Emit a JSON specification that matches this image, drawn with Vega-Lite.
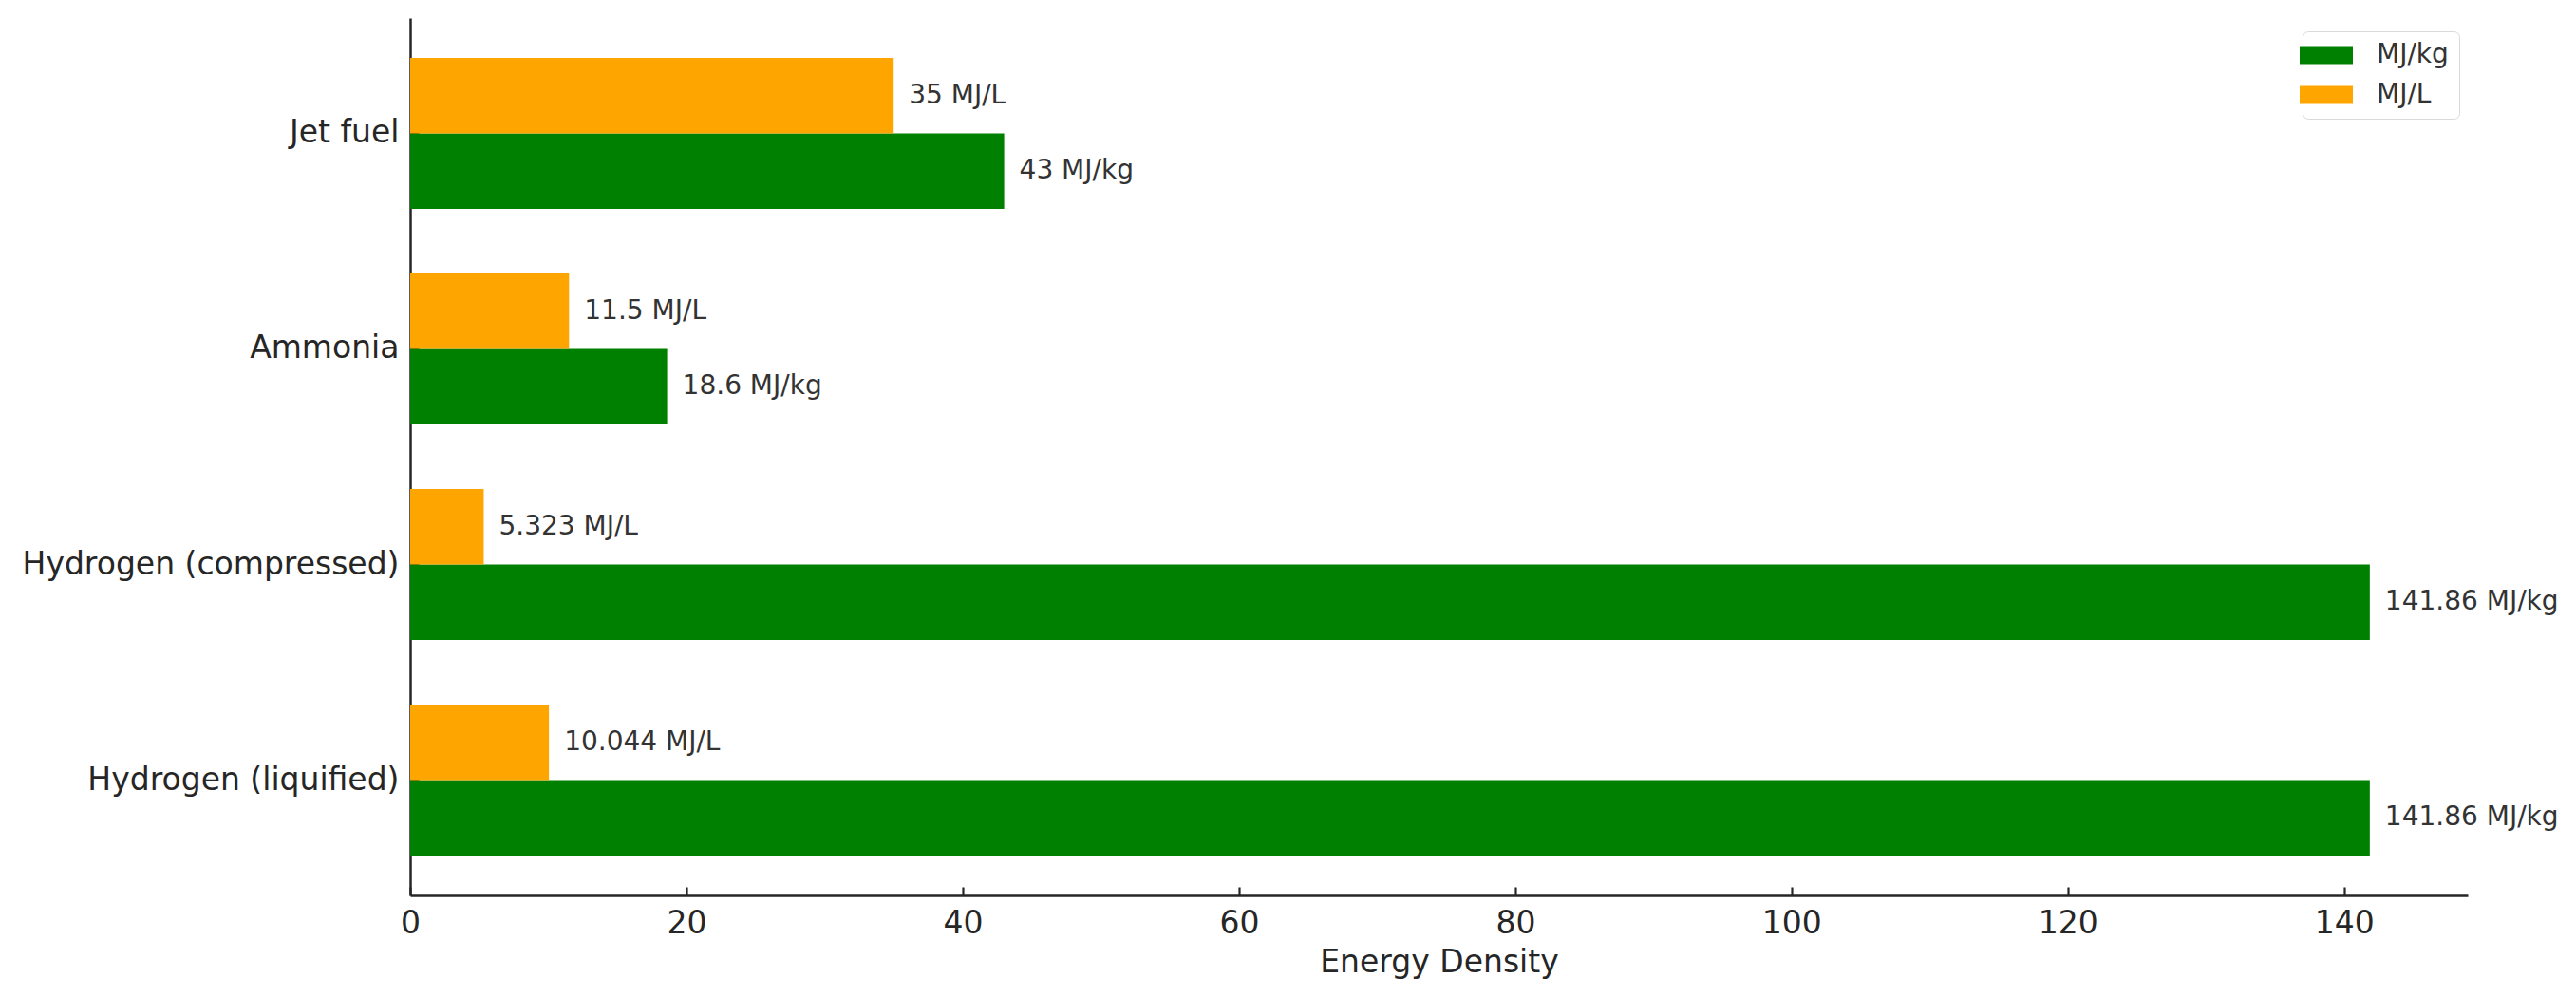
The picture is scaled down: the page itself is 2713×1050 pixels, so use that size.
{
  "$schema": "https://vega.github.io/schema/vega-lite/v6.json",
  "description": "Energy density of fuels, MJ/kg and MJ/L, grouped horizontal bars.",
  "autosize": "none",
  "width": 2167,
  "height": 924,
  "padding": {"left": 432, "top": 19, "right": 114, "bottom": 107},
  "background": "white",
  "config": {
    "font": "DejaVu Sans",
    "view": {"stroke": null},
    "axis": {
      "grid": false,
      "zindex": 1,
      "domainColor": "#262626",
      "domainWidth": 2.5,
      "tickColor": "#262626",
      "tickWidth": 2.2,
      "tickSize": -9,
      "labelColor": "#262626",
      "labelFontSize": 33,
      "labelFont": "DejaVu Sans",
      "titleFont": "DejaVu Sans",
      "titleFontWeight": "normal",
      "titleColor": "#262626",
      "titleFontSize": 33
    },
    "legend": {
      "strokeColor": "#d9d9d9",
      "padding": 11,
      "cornerRadius": 6,
      "fillColor": "white"
    }
  },
  "data": {
    "values": [
      {"fuel": "Jet fuel", "unit": "MJ/kg", "value": 43, "label": "43 MJ/kg"},
      {"fuel": "Jet fuel", "unit": "MJ/L", "value": 35, "label": "35 MJ/L"},
      {"fuel": "Ammonia", "unit": "MJ/kg", "value": 18.6, "label": "18.6 MJ/kg"},
      {"fuel": "Ammonia", "unit": "MJ/L", "value": 11.5, "label": "11.5 MJ/L"},
      {"fuel": "Hydrogen (compressed)", "unit": "MJ/kg", "value": 141.86, "label": "141.86 MJ/kg"},
      {"fuel": "Hydrogen (compressed)", "unit": "MJ/L", "value": 5.323, "label": "5.323 MJ/L"},
      {"fuel": "Hydrogen (liquified)", "unit": "MJ/kg", "value": 141.86, "label": "141.86 MJ/kg"},
      {"fuel": "Hydrogen (liquified)", "unit": "MJ/L", "value": 10.044, "label": "10.044 MJ/L"}
    ]
  },
  "encoding": {
    "y": {
      "field": "fuel",
      "type": "nominal",
      "sort": ["Jet fuel", "Ammonia", "Hydrogen (compressed)", "Hydrogen (liquified)"],
      "scale": {"paddingInner": 0.3, "paddingOuter": 0.185},
      "axis": {"title": null, "labelPadding": 21, "labelLimit": 0}
    },
    "yOffset": {
      "field": "unit",
      "type": "nominal",
      "sort": ["MJ/L", "MJ/kg"],
      "scale": {"paddingInner": 0, "paddingOuter": 0}
    },
    "x": {
      "field": "value",
      "type": "quantitative",
      "scale": {"domain": [0, 148.95], "nice": false},
      "axis": {
        "title": "Energy Density",
        "values": [0, 20, 40, 60, 80, 100, 120, 140],
        "labelPadding": 22,
        "titlePadding": 8,
        "labelFlush": false
      }
    }
  },
  "layer": [
    {
      "mark": {"type": "bar"},
      "encoding": {
        "color": {
          "field": "unit",
          "type": "nominal",
          "scale": {"domain": ["MJ/kg", "MJ/L"], "range": ["#008000", "#FFA500"]},
          "legend": {
            "title": null,
            "orient": "none",
            "legendX": 1993,
            "legendY": 14,
            "symbolType": "M-2,-0.68H2V0.68H-2Z",
            "symbolSize": 784,
            "symbolStrokeWidth": 0,
            "labelFontSize": 28,
            "labelColor": "#333333",
            "labelOffset": 39,
            "rowPadding": 14
          }
        }
      }
    },
    {
      "mark": {
        "type": "text",
        "align": "left",
        "baseline": "middle",
        "dx": 16,
        "fontSize": 28,
        "color": "#333333"
      },
      "encoding": {
        "text": {"field": "label", "type": "nominal"}
      }
    }
  ]
}
